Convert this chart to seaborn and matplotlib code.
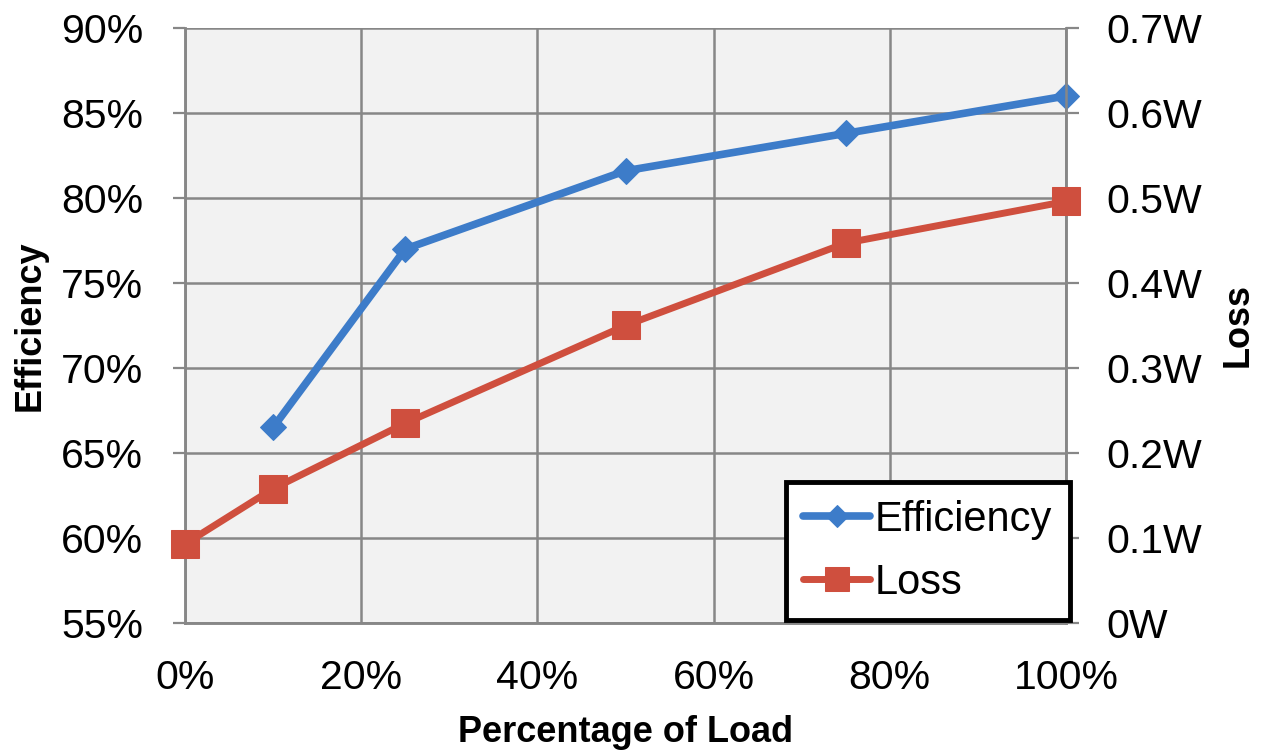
import matplotlib
matplotlib.use("Agg")
import matplotlib.pyplot as plt
from matplotlib.ticker import FuncFormatter
import seaborn as sns
import pandas as pd

# Measured converter performance versus load
eff_load = [0.10, 0.25, 0.50, 0.75, 1.00]
efficiency = [66.5, 77.0, 81.6, 83.8, 86.0]

loss_load = [0.00, 0.10, 0.25, 0.50, 0.75, 1.00]
loss_w = [0.093, 0.158, 0.235, 0.350, 0.447, 0.496]

x_ticks = [0.0, 0.2, 0.4, 0.6, 0.8, 1.0]
eff_ticks = [55, 60, 65, 70, 75, 80, 85, 90]
loss_ticks = [0.0, 0.1, 0.2, 0.3, 0.4, 0.5, 0.6, 0.7]

BLUE = "#3D7CC9"
RED = "#CF4F3E"
GRID = "#878787"

sns.set_style("white")
plt.rcParams["font.family"] = ["Liberation Sans", "DejaVu Sans"]
plt.rcParams["text.color"] = "black"
plt.rcParams["axes.labelcolor"] = "black"

eff_df = pd.DataFrame({"load": eff_load, "value": efficiency})
loss_df = pd.DataFrame({"load": loss_load, "value": loss_w})

fig = plt.figure(figsize=(12.65, 7.51), dpi=100)
ax = fig.add_axes([185 / 1265, 1 - 623 / 751, (1066 - 185) / 1265, (623 - 28) / 751])
ax2 = ax.twinx()
ax.set_facecolor("#F2F2F2")

sns.lineplot(data=eff_df, x="load", y="value", ax=ax, color=BLUE, lw=5.5,
             marker="D", markersize=13, markeredgecolor=BLUE, label="Efficiency",
             legend=False, clip_on=False, zorder=4)
sns.lineplot(data=loss_df, x="load", y="value", ax=ax2, color=RED, lw=5,
             marker="s", markersize=19.5, markeredgecolor=RED, label="Loss",
             legend=False, clip_on=False, zorder=4)

ax.set_xlim(0, 1)
ax.set_ylim(55, 90)
ax2.set_ylim(0, 0.7)
ax.set_xticks(x_ticks)
ax.set_yticks(eff_ticks)
ax2.set_yticks(loss_ticks)

ax.xaxis.set_major_formatter(FuncFormatter(lambda v, p: f"{v * 100:.0f}%"))
ax.yaxis.set_major_formatter(FuncFormatter(lambda v, p: f"{v:.0f}%"))
ax2.yaxis.set_major_formatter(
    FuncFormatter(lambda v, p: "0W" if abs(v) < 1e-9 else f"{v:.1f}W"))

ax.grid(True, color=GRID, lw=1.8)
ax.set_axisbelow(True)

for a in (ax, ax2):
    for side, sp in a.spines.items():
        sp.set_color(GRID)
        sp.set_linewidth(1.8)
    a.spines["top"].set_visible(False)

ax.tick_params(axis="both", which="major", direction="out", length=9, width=1.6,
               color=GRID, labelsize=29.5, labelcolor="black")
ax.tick_params(axis="y", pad=21)
ax.tick_params(axis="x", pad=17)
ax2.tick_params(axis="y", direction="out", length=9, width=1.6, color=GRID,
                labelsize=29.5, labelcolor="black", pad=20)

ax.set_xlabel("Percentage of Load", fontsize=26, fontweight="bold", labelpad=13)
ax.set_ylabel("Efficiency", fontsize=26, fontweight="bold", labelpad=10)
ax2.set_ylabel("Loss", fontsize=26, fontweight="bold", labelpad=13)

h1, l1 = ax.get_legend_handles_labels()
h2, l2 = ax2.get_legend_handles_labels()
leg = ax2.legend(h1 + h2, l1 + l2, loc="lower right",
                 bbox_to_anchor=(1070 / 1265, 131 / 751),
                 bbox_transform=fig.transFigure, borderaxespad=0,
                 fontsize=30, frameon=True, fancybox=False, framealpha=1,
                 handlelength=1.6, handletextpad=0.12, labelspacing=0.55,
                 borderpad=0.42, markerscale=0.9)
leg.get_frame().set_edgecolor("black")
leg.get_frame().set_linewidth(3.5)
for t in leg.get_texts():
    t.set_color("black")
leg.set_zorder(10)

fig.savefig("out.png", dpi=100, facecolor="white")
